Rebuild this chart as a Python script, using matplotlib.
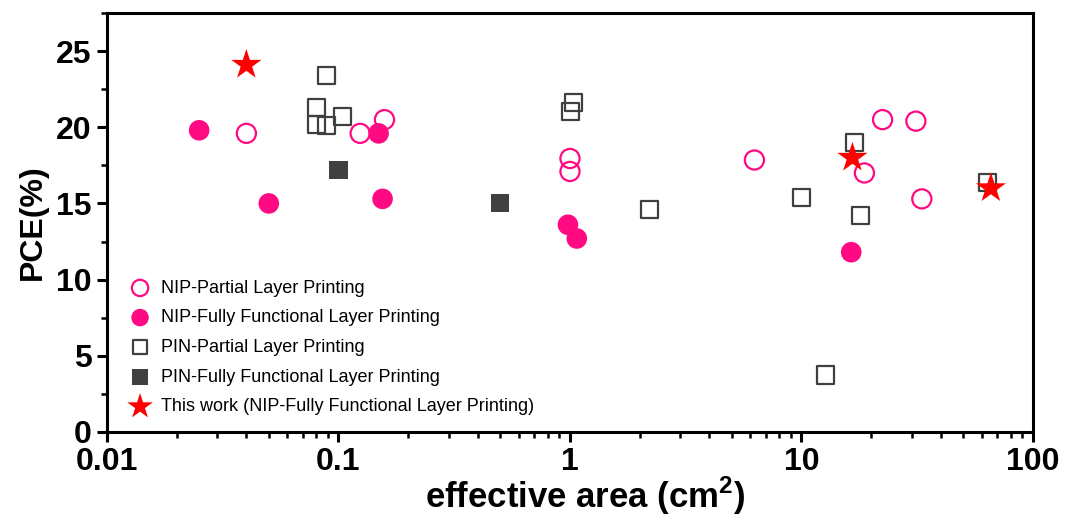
import matplotlib
matplotlib.use('Agg')
from matplotlib import pyplot as plt
from matplotlib import ticker
import numpy as np

# NIP - partial layer printing (open circles)
nip_partial_x = [0.04, 0.124, 0.158, 1.0, 1.0, 6.26, 22.4, 31.2, 18.7, 33.1]
nip_partial_y = [19.6, 19.6, 20.5, 17.95, 17.1, 17.85, 20.5, 20.4, 17.0, 15.3]

# NIP - fully functional layer printing (filled circles)
nip_full_x = [0.025, 0.05, 0.149, 0.155, 0.98, 1.07, 16.4]
nip_full_y = [19.8, 15.0, 19.6, 15.3, 13.6, 12.7, 11.8]

# PIN - partial layer printing (open squares)
pin_partial_x = [0.089, 0.08, 0.08, 0.089, 0.104, 1.04, 1.01, 2.2, 10.0, 17.0, 18.0, 12.7, 63.5]
pin_partial_y = [23.4, 21.3, 20.2, 20.1, 20.7, 21.6, 21.06, 14.6, 15.4, 19.0, 14.2, 3.74, 16.4]

# PIN - fully functional layer printing (filled squares)
pin_full_x = [0.1, 0.5]
pin_full_y = [17.2, 15.0]

# this work
star_x = [0.04, 16.6, 65.8]
star_y = [24.1, 18.0, 16.0]

pink = '#FF0A82'
grey = '#404040'

plt.rcParams['font.family'] = ['Liberation Sans', 'DejaVu Sans']
plt.rcParams['mathtext.fontset'] = 'custom'
plt.rcParams['mathtext.bf'] = 'Liberation Sans:bold'
plt.rcParams['mathtext.rm'] = 'Liberation Sans'

fig = plt.figure(figsize=(10.69, 5.15), dpi=100)
ax = fig.add_axes([0.1001, 0.1612, 0.8662, 0.8136])

ax.scatter(nip_partial_x, nip_partial_y, s=190, facecolors='none', edgecolors=pink,
           linewidths=1.6, label='NIP-Partial Layer Printing', zorder=3)
ax.scatter(nip_full_x, nip_full_y, s=220, color=pink, edgecolors='none',
           label='NIP-Fully Functional Layer Printing', zorder=3)
ax.scatter(pin_partial_x, pin_partial_y, s=150, marker='s', facecolors='none', edgecolors=grey,
           linewidths=1.6, label='PIN-Partial Layer Printing', zorder=3)
ax.scatter(pin_full_x, pin_full_y, s=170, marker='s', color=grey, edgecolors='none',
           label='PIN-Fully Functional Layer Printing', zorder=3)
ax.scatter(star_x, star_y, s=520, marker='*', color='#FF0000', edgecolors='none',
           label='This work (NIP-Fully Functional Layer Printing)', zorder=4)

ax.set_xscale('log')
ax.set_xlim(0.01, 100)
ax.set_ylim(0, 27.5)
ax.set_yticks([0, 5, 10, 15, 20, 25])
ax.yaxis.set_minor_locator(ticker.MultipleLocator(2.5))
ax.xaxis.set_major_formatter(ticker.FuncFormatter(lambda v, p: ('%g' % v)))
ax.xaxis.set_minor_formatter(ticker.NullFormatter())

for s in ax.spines.values():
    s.set_linewidth(2.2)
ax.tick_params(which='major', direction='out', length=7, width=2.2, labelsize=23, pad=4)
ax.tick_params(which='minor', direction='out', length=4, width=1.8)
for lab in ax.get_xticklabels() + ax.get_yticklabels():
    lab.set_fontweight('bold')

ax.set_xlabel('effective area (cm$^\\mathbf{2}$)', fontsize=25, fontweight='bold', labelpad=-2)
ax.xaxis.label.set_x(0.516)
ax.set_ylabel('PCE(%)', fontsize=23, fontweight='bold', labelpad=6)

leg = ax.legend(loc='lower left', bbox_to_anchor=(0.024, 0.04), frameon=False,
                prop={'family': 'Liberation Sans', 'size': 13},
                handletextpad=0.55, labelspacing=0.7, borderpad=0.0, borderaxespad=0.0,
                handlelength=1.2, markerscale=0.85)

fig.savefig('out.png', dpi=100)
